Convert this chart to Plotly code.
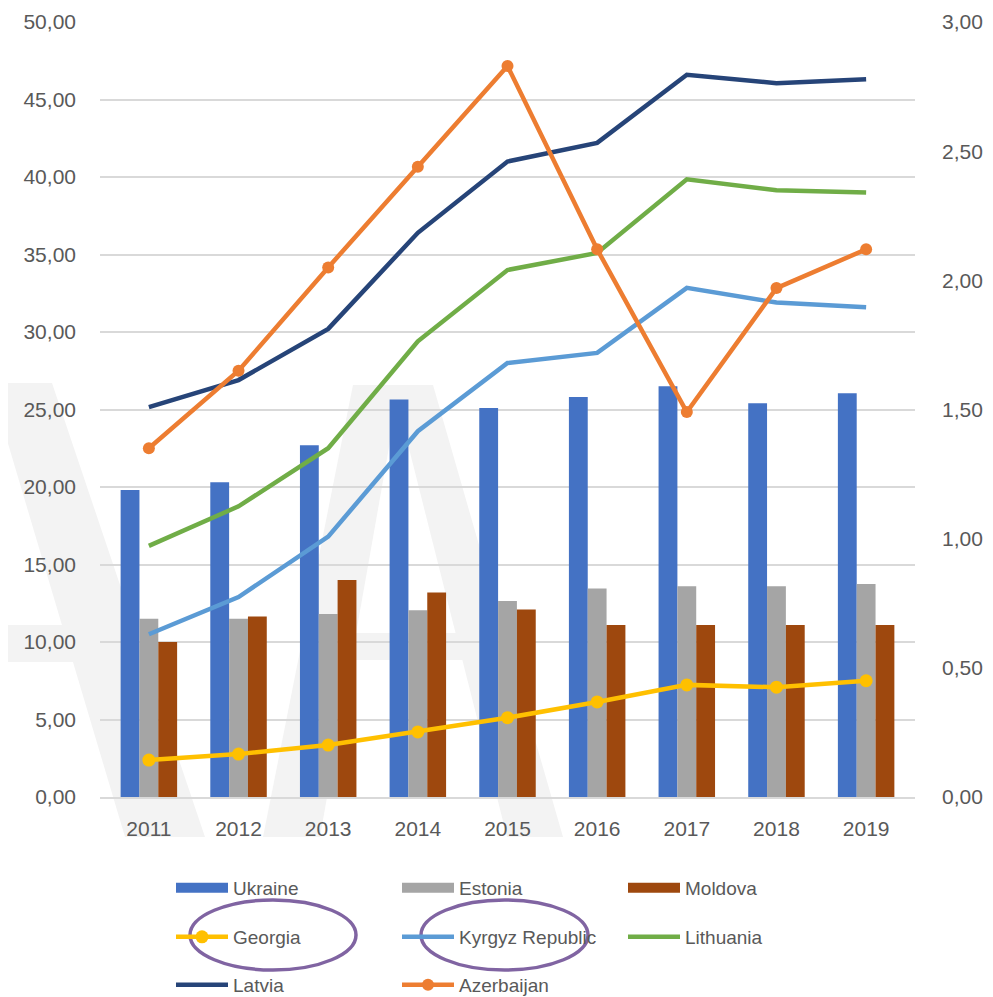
import plotly.graph_objects as go

years = ["2011", "2012", "2013", "2014", "2015", "2016", "2017", "2018", "2019"]

ukraine = [19.8, 20.3, 22.7, 25.65, 25.1, 25.8, 26.5, 25.4, 26.05]
estonia = [11.5, 11.5, 11.8, 12.05, 12.65, 13.45, 13.6, 13.6, 13.75]
moldova = [10.0, 11.65, 14.0, 13.2, 12.1, 11.1, 11.1, 11.1, 11.1]

kyrgyz = [10.5, 12.9, 16.8, 23.6, 28.0, 28.65, 32.85, 31.9, 31.6]
lithuania = [16.2, 18.75, 22.5, 29.4, 34.0, 35.1, 39.85, 39.15, 39.0]
latvia = [25.15, 26.9, 30.2, 36.4, 41.0, 42.2, 46.6, 46.05, 46.3]

georgia = [0.143, 0.166, 0.201, 0.252, 0.307, 0.368, 0.434, 0.425, 0.45]
azerbaijan = [1.35, 1.65, 2.05, 2.44, 2.83, 2.12, 1.49, 1.97, 2.12]

FONT = "Liberation Sans"
GRAY = "#595959"
GRID = "#d9d9d9"

# The page body adds an 8px offset; size the figure so the plot area lands
# where it should in the 993x997 window.
OFF = 8
FW, FH = 993 - OFF, 997 - OFF
PL, PR, PT, PB = 100, 915, 22, 797          # plot area in window pixels
L, T = PL - OFF, PT - OFF
R, B = FW - (PR - OFF), FH - (PB - OFF)
W, H = PR - PL, PB - PT


def px(x):
    return (x - PL) / W


def py(y):
    return (PB - y) / H


def poly(pts):
    return "M " + " L ".join(f"{px(a):.4f},{py(b):.4f}" for a, b in pts) + " Z"


fig = go.Figure()

bar_series = [("Ukraine", ukraine, "#4472C4"),
              ("Estonia", estonia, "#A5A5A5"),
              ("Moldova", moldova, "#9E480E")]
for name, vals, col in bar_series:
    fig.add_trace(go.Bar(x=years, y=vals, name=name, marker_color=col,
                         marker_line_width=0, legendgroup=name, showlegend=False))
for name, vals, col in bar_series:
    # legend-only entry giving the wide rectangular swatch of the original
    fig.add_trace(go.Scatter(x=[None], y=[None], name=name, mode="lines",
                             line=dict(color=col, width=14), legendgroup=name,
                             legend="legend", hoverinfo="skip"))

fig.add_trace(go.Scatter(x=years, y=georgia, name="Georgia", mode="lines+markers",
                         line=dict(color="#FFC000", width=4.5),
                         marker=dict(size=13, color="#FFC000"),
                         yaxis="y2", legend="legend2"))
fig.add_trace(go.Scatter(x=years, y=kyrgyz, name="Kyrgyz Republic", mode="lines",
                         line=dict(color="#5B9BD5", width=4.5), legend="legend2"))
fig.add_trace(go.Scatter(x=years, y=lithuania, name="Lithuania", mode="lines",
                         line=dict(color="#70AD47", width=4.5), legend="legend2"))
fig.add_trace(go.Scatter(x=years, y=latvia, name="Latvia", mode="lines",
                         line=dict(color="#264478", width=4.5), legend="legend3"))
fig.add_trace(go.Scatter(x=years, y=azerbaijan, name="Azerbaijan", mode="lines+markers",
                         line=dict(color="#ED7D31", width=4.5),
                         marker=dict(size=12, color="#ED7D31"),
                         yaxis="y2", legend="legend3"))


def leg(row_y):
    return dict(orientation="h", x=px(171), xanchor="left", y=py(row_y),
                yanchor="middle", entrywidth=159, entrywidthmode="pixels",
                itemwidth=52, font=dict(family=FONT, size=19, color=GRAY),
                bgcolor="rgba(0,0,0,0)", traceorder="normal", itemclick=False)


wm = dict(type="path", xref="paper", yref="paper", layer="below",
          fillcolor="#f3f3f3", line=dict(width=0))

fig.update_layout(
    width=FW, height=FH,
    margin=dict(l=L, r=R, t=T, b=B, autoexpand=False),
    paper_bgcolor="white", plot_bgcolor="rgba(0,0,0,0)",
    separators=",.",
    barmode="group", bargap=0.37, bargroupgap=0,
    font=dict(family=FONT, size=21, color=GRAY),
    xaxis=dict(showgrid=False, showline=True, linecolor=GRID, linewidth=2,
               ticks="", ticklabelstandoff=12,
               tickfont=dict(size=21, color=GRAY), automargin=False),
    yaxis=dict(range=[0, 50], dtick=5, tickformat=".2f", showgrid=True,
               gridcolor=GRID, gridwidth=2, zeroline=False, ticks="",
               ticklabelstandoff=23, tickfont=dict(size=21, color=GRAY),
               automargin=False),
    yaxis2=dict(range=[0, 3], dtick=0.5, tickformat=".2f", overlaying="y",
                side="right", showgrid=False, zeroline=False, ticks="",
                ticklabelstandoff=26, tickfont=dict(size=21, color=GRAY),
                automargin=False),
    legend=leg(888),
    legend2=leg(937),
    legend3=leg(985),
    shapes=[
        dict(wm, path=poly([(-10, 383), (52, 383), (205, 837), (125, 837)])),
        dict(wm, path=poly([(-10, 625), (120, 625), (120, 662), (-10, 662)])),
        dict(wm, path=poly([(263, 837), (353, 385), (400, 385), (320, 837)])),
        dict(wm, path=poly([(393, 385), (433, 385), (563, 837), (507, 837)])),
        dict(wm, path=poly([(338, 633), (470, 633), (478, 660), (333, 660)])),
        dict(type="circle", xref="paper", yref="paper", x0=px(190), x1=px(356),
             y0=py(970), y1=py(900), line=dict(color="#8064A2", width=3.5)),
        dict(type="circle", xref="paper", yref="paper", x0=px(421), x1=px(588),
             y0=py(970), y1=py(900), line=dict(color="#8064A2", width=3.5)),
    ],
)

fig.write_html("out.html")
